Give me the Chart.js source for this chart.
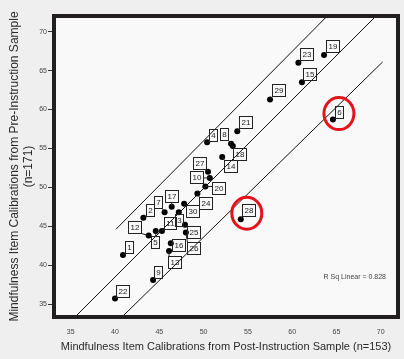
<!DOCTYPE html>
<html>
<head>
<meta charset="utf-8">
<script src="https://cdn.jsdelivr.net/npm/chart.js@4/dist/chart.umd.min.js"></script>
<style>
  html, body { margin: 0; padding: 0; background: #efefef; }
  canvas { display: block; }
</style>
</head>
<body>
<canvas id="grafico" width="404" height="359"></canvas>
<script>
// Datos: numero de item, calibracion post (x) y pre (y)
const items = [1, 2, 3, 4, 5, 6, 7, 8, 9, 10, 11, 12, 13, 14, 15,
  16, 17, 18, 19, 20, 21, 22, 23, 24, 25, 26, 27, 28, 29, 30];
const postCal = [40.9, 43.2, 47.2, 50.4, 44.6, 64.6, 45.6, 53.1, 44.3, 50.7, 45.3, 43.8, 46.1, 52.1, 61.1,
  46.3, 46.4, 53.3, 63.6, 50.2, 53.8, 40.0, 60.7, 49.3, 47.9, 48.0, 50.5, 54.2, 57.5, 47.8];
const preCal = [41.3, 46.1, 46.8, 55.8, 44.4, 58.7, 46.8, 55.6, 38.1, 51.2, 44.4, 43.8, 41.8, 53.9, 63.5,
  42.8, 47.5, 55.3, 67.0, 50.1, 57.2, 35.7, 66.0, 49.2, 45.2, 44.2, 52.0, 45.9, 61.3, 47.9];

// Lineas (recta de ajuste y bandas)
const fitLineX = [35.3, 69.5];
const fitLineY = [33.12, 72.06];
const upperLineX = [40.1, 63.9];
const upperLineY = [44.6, 71.95];
const lowerLineX = [40.6, 70.2];
const lowerLineY = [33.13, 66.1];

const xTicks = [35, 40, 45, 50, 55, 60, 65, 70];
const yTicks = [35, 40, 45, 50, 55, 60, 65, 70];
const highlighted = [6, 28];
const rSquared = 0.828;

const xTitle = "Mindfulness Item Calibrations from Post-Instruction Sample (n=153)";
const yTitle = ["Mindfulness Item Calibrations from Pre-Instruction Sample", "(n=171)"];

// posicion de cada etiqueta respecto al punto (px)
const labelOffsets = {
  1: [6, -8], 2: [7, -8], 3: [0, 8], 4: [6, -7], 5: [-1, 11], 6: [6, -8],
  7: [-7, -10], 8: [-7, -10], 9: [5, -8], 10: [-13, -1], 11: [8, -8], 12: [-14, -9],
  13: [5, 11], 14: [8, 9], 15: [8, -8], 16: [8, 2], 17: [0, -11], 18: [7, 8],
  19: [8, -9], 20: [13, 1], 21: [8, -9], 22: [8, -8], 23: [8, -9], 24: [8, 9],
  25: [9, 7], 26: [8, 16], 27: [-9, -9], 28: [8, -9], 29: [8, -9], 30: [8, 7]
};

const FONT = '"Liberation Sans", Arial, sans-serif';

const toPoints = (xs, ys) => xs.map((x, i) => ({ x: x, y: ys[i] }));

const fondoPlugin = {
  id: "fondo",
  beforeDraw(chart) {
    const { ctx, chartArea: a } = chart;
    ctx.save();
    ctx.fillStyle = "#f9f9f9";
    ctx.fillRect(a.left, a.top, a.right - a.left, a.bottom - a.top);
    ctx.restore();
  },
  afterDraw(chart) {
    const { ctx, chartArea: a } = chart;
    ctx.save();
    ctx.strokeStyle = "#231f20";
    ctx.lineWidth = 4;
    ctx.strokeRect(a.left - 2, a.top - 2, a.right - a.left + 4, a.bottom - a.top + 4);
    // R cuadrado
    ctx.fillStyle = "#444";
    ctx.font = "7px " + FONT;
    ctx.textAlign = "right";
    ctx.textBaseline = "middle";
    ctx.fillText("R Sq Linear = " + rSquared.toFixed(3), a.right - 10, a.bottom - 38);
    ctx.restore();
  }
};

const etiquetasPlugin = {
  id: "etiquetas",
  afterDatasetsDraw(chart) {
    const ctx = chart.ctx;
    const meta = chart.getDatasetMeta(3);
    ctx.save();
    ctx.font = "8px " + FONT;
    ctx.textAlign = "center";
    ctx.textBaseline = "middle";
    meta.data.forEach((pt, i) => {
      const id = items[i];
      const off = labelOffsets[id] || [8, -8];
      const txt = String(id);
      const w = Math.round(ctx.measureText(txt).width + 4);
      const h = 12;
      const cx = pt.x + off[0];
      const cy = pt.y + off[1];
      const bx = Math.round(cx - w / 2) + 0.5;
      const by = Math.round(cy - h / 2) + 0.5;
      const nx = Math.max(bx, Math.min(pt.x, bx + w));
      const ny = Math.max(by, Math.min(pt.y, by + h));
      ctx.strokeStyle = "#222";
      ctx.lineWidth = 1;
      ctx.beginPath();
      ctx.moveTo(pt.x, pt.y);
      ctx.lineTo(nx, ny);
      ctx.stroke();
      ctx.strokeRect(bx, by, w, h);
      ctx.fillStyle = "#222";
      ctx.fillText(txt, bx + w / 2, by + h / 2 + 0.5);

      if (highlighted.includes(id)) {
        ctx.save();
        ctx.strokeStyle = "#e5121b";
        ctx.lineWidth = 3;
        ctx.beginPath();
        ctx.ellipse(pt.x + 6, pt.y - 6, 15, 16, 0, 0, Math.PI * 2);
        ctx.stroke();
        ctx.restore();
      }
    });
    ctx.restore();
  }
};

const lineStyle = {
  showLine: true,
  borderColor: "#111",
  borderWidth: 1,
  pointRadius: 0,
  fill: false
};

new Chart(document.getElementById("grafico"), {
  type: "scatter",
  data: {
    datasets: [
      { ...lineStyle, data: toPoints(fitLineX, fitLineY) },
      { ...lineStyle, data: toPoints(upperLineX, upperLineY) },
      { ...lineStyle, data: toPoints(lowerLineX, lowerLineY) },
      {
        data: toPoints(postCal, preCal),
        pointRadius: 3,
        pointBackgroundColor: "#000",
        pointBorderColor: "#000",
        pointBorderWidth: 0
      }
    ]
  },
  options: {
    responsive: false,
    animation: false,
    devicePixelRatio: 1,
    layout: { padding: { top: 18, right: 8, left: 0, bottom: 0 } },
    plugins: { legend: { display: false }, tooltip: { enabled: false } },
    scales: {
      x: {
        type: "linear",
        min: 33.34,
        max: 71.72,
        afterBuildTicks: (s) => { s.ticks = xTicks.map((v) => ({ value: v })); },
        afterFit: (s) => { s.height = 44; },
        grid: { display: false, drawTicks: false },
        border: { display: false },
        ticks: { font: { size: 7, family: FONT }, color: "#444", padding: 13 },
        title: {
          display: true,
          text: xTitle,
          color: "#2a2a2a",
          font: { size: 11, family: FONT },
          padding: { top: 0, bottom: 5 }
        }
      },
      y: {
        type: "linear",
        min: 33.59,
        max: 71.76,
        afterBuildTicks: (s) => { s.ticks = yTicks.map((v) => ({ value: v })); },
        afterFit: (s) => { s.width = 56; },
        grid: { drawOnChartArea: false, drawTicks: true, tickLength: 8, color: "#333" },
        border: { display: false },
        ticks: { font: { size: 7, family: FONT }, color: "#444", padding: 1 },
        title: {
          display: true,
          text: yTitle,
          color: "#2a2a2a",
          font: { size: 12, family: FONT, lineHeight: 1.17 },
          padding: { top: 8, bottom: 0 }
        }
      }
    }
  },
  plugins: [fondoPlugin, etiquetasPlugin]
});
</script>
</body>
</html>
